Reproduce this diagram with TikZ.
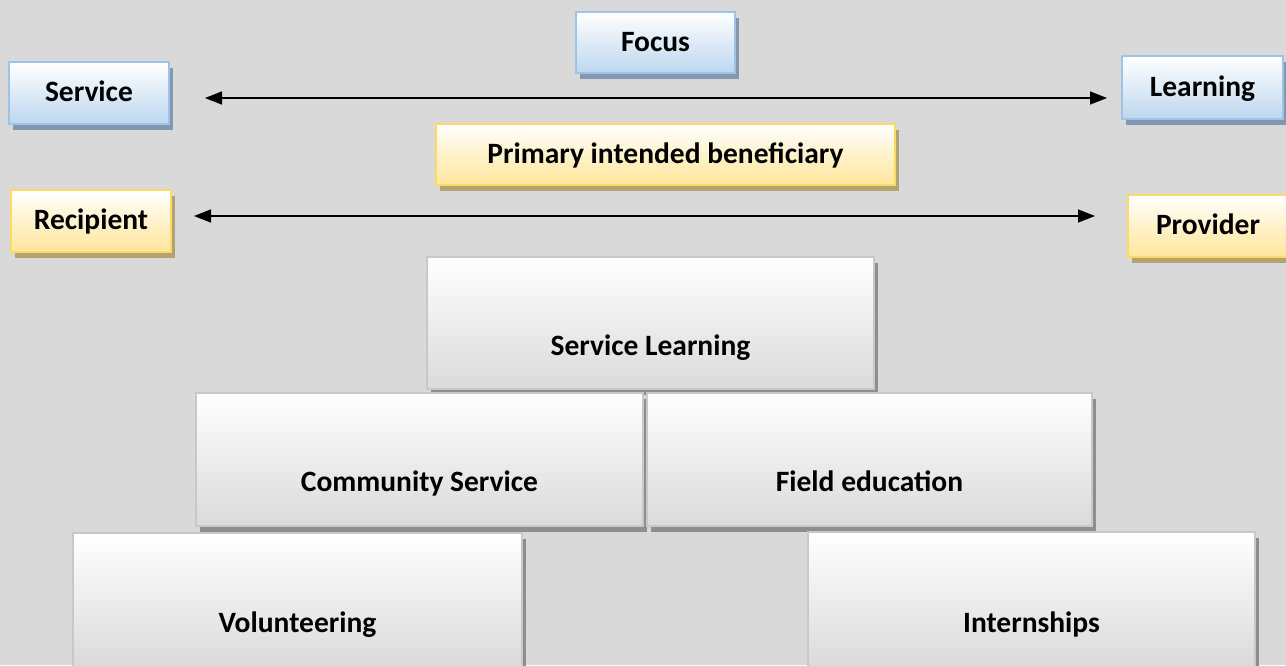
\documentclass[tikz,border=0pt]{standalone}
\usepackage{fontspec}
\setmainfont{Carlito}
\usetikzlibrary{shadows,arrows.meta}
\definecolor{bg}{HTML}{D9D9D9}
\definecolor{blueB}{HTML}{9DC3E6}
\definecolor{blueF}{HTML}{BDD7EE}
\definecolor{blueS}{HTML}{8597AE}
\definecolor{yelB}{HTML}{FFD966}
\definecolor{yelF}{HTML}{FFE699}
\definecolor{yelS}{HTML}{B3A272}
\definecolor{greyB}{HTML}{C8C8C8}
\definecolor{greyF}{HTML}{DADADA}
\definecolor{greyS}{HTML}{8E8E8E}
\tikzset{
  lbl/.style={font=\fontsize{29.5}{33}\selectfont\bfseries, text=black, align=center},
  bluebox/.style={lbl, rectangle, draw=blueB, line width=2pt, top color=white, bottom color=blueF,
    text height=17pt, text depth=0pt, inner sep=0pt,
    drop shadow={shadow xshift=4pt, shadow yshift=-6pt, fill=blueS, opacity=1}},
  yelbox/.style={lbl, rectangle, draw=yelB, line width=2pt, top color=white, bottom color=yelF,
    text height=17pt, text depth=0pt, inner sep=0pt,
    drop shadow={shadow xshift=4pt, shadow yshift=-6pt, fill=yelS, opacity=1}},
  greybox/.style={lbl, rectangle, draw=greyB, line width=1.5pt, top color=white, bottom color=greyF,
    text height=64pt, text depth=0pt, inner sep=0pt,
    drop shadow={shadow xshift=4pt, shadow yshift=-6pt, fill=greyS, opacity=1}},
  dblarrow/.style={line width=1.5pt, {Triangle[length=17pt,width=13pt]}-{Triangle[length=17pt,width=13pt]}}
}
\begin{document}
\begin{tikzpicture}[x=1pt,y=-1pt]
\fill[bg] (0,0) rectangle (1286,665);
\useasboundingbox (0,0) rectangle (1286,665);
% top row
\node[bluebox, minimum width=159pt, minimum height=61pt] (focus) at (655.5,42.5) {Focus};
\node[bluebox, minimum width=160pt, minimum height=62pt] (service) at (89,93) {Service};
\node[bluebox, minimum width=161pt, minimum height=63pt] (learning) at (1202.5,87.5) {Learning};
\node[yelbox, minimum width=459pt, minimum height=61pt] (primary) at (665.5,154.5) {Primary intended beneficiary};
\node[yelbox, minimum width=160pt, minimum height=62pt] (recipient) at (91,221) {Recipient};
\node[yelbox, minimum width=160pt, minimum height=62pt] (provider) at (1208,226) {Provider};
% arrows
\coordinate (a1l) at (205,98);
\coordinate (a1r) at (1107,98);
\coordinate (a2l) at (194,216);
\coordinate (a2r) at (1095,216);
\draw[dblarrow] (a1l) -- (a1r);
\draw[dblarrow] (a2l) -- (a2r);
% pyramid
\node[greybox, minimum width=447pt, minimum height=132pt] (sl) at (650.5,323) {Service Learning};
\node[greybox, minimum width=447pt, minimum height=133pt] (cs) at (419.5,459.5) {Community Service};
\node[greybox, minimum width=445pt, minimum height=133pt] (fe) at (869.5,459.5) {Field education};
\node[greybox, minimum width=449pt, minimum height=135pt] (vo) at (297.5,600.5) {Volunteering};
\node[greybox, minimum width=447pt, minimum height=136pt] (in) at (1031.5,600) {Internships};
\end{tikzpicture}
\end{document}
